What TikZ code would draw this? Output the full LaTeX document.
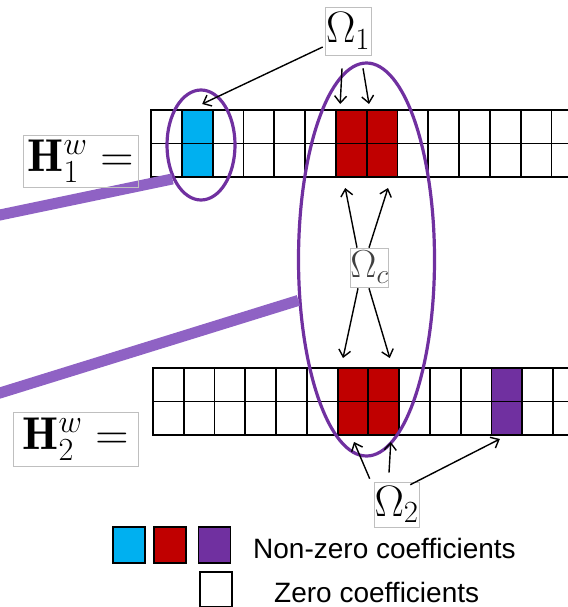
\RequirePackage{fix-cm}
\documentclass[tikz,border=0pt]{standalone}
\usepackage{fontspec}
\setsansfont{Liberation Sans}
\usetikzlibrary{shapes.geometric,calc,arrows.meta}

\definecolor{cblue}{RGB}{0,176,240}
\definecolor{cred}{RGB}{192,0,0}
\definecolor{cpurple}{RGB}{112,48,160}
\definecolor{cband}{RGB}{143,98,196}

\tikzset{
  cell/.style={shape=rectangle,draw,line width=1.8pt,minimum width=30.8pt,minimum height=33.5pt,inner sep=0pt,outer sep=0pt},
  key/.style={cell,minimum width=32pt,minimum height=36pt},
  eqbox/.style={shape=rectangle,draw=black!25,line width=0.6pt,inner sep=0pt},
  group/.style={shape=ellipse,draw=cpurple,line width=3.2pt,inner sep=0pt},
  band/.style={cband,line width=11pt},
  arr/.style={->,line width=1.4pt},
}

\begin{document}
\begin{tikzpicture}[x=1pt,y=-1pt,>={Straight Barb[length=7pt,width=12pt]}]
\useasboundingbox (0,0) rectangle (567,607);

% the two coefficient matrices
\foreach \r in {1,2}
  \foreach \c in {1,...,14} {
    \node[cell] (t-\r-\c) at ({151+30.8*(\c-0.5)},{110+33.5*(\r-0.5)}) {};
    \node[cell] (b-\r-\c) at ({153+30.77*(\c-0.5)},{368+33.5*(\r-0.5)}) {};
  }
\foreach \r in {1,2} {
  \node[cell,fill=cblue] at (t-\r-2) {};
  \node[cell,fill=cred] at (t-\r-7) {};
  \node[cell,fill=cred] at (t-\r-8) {};
  \node[cell,fill=cred] at (b-\r-7) {};
  \node[cell,fill=cred] at (b-\r-8) {};
  \node[cell,fill=cpurple] at (b-\r-12) {};
}

% groups
\node[group,minimum width=68pt,minimum height=110pt] (g1) at (201,145) {};
\node[group,minimum width=136pt,minimum height=393pt] (gc) at (366.5,259.5) {};

\coordinate (l1) at (-5,216);
\coordinate (l2) at (-5,394.5);
\draw[band] (l1) -- (g1.230);
\draw[band] (l2) -- (gc.211);

% labels
\node[eqbox,minimum width=115pt,minimum height=52pt] (h1) at (80.5,161) {\fontsize{46}{50}\selectfont$\mathbf{H}^w_1=$};
\node[eqbox,minimum width=125pt,minimum height=54pt] (h2) at (75.5,439) {\fontsize{46}{50}\selectfont$\mathbf{H}^w_2=$};
\node[eqbox,minimum width=46pt,minimum height=48pt] (o1) at (348,31) {\fontsize{44}{48}\selectfont$\Omega_1$};
\node[eqbox,minimum width=37pt,minimum height=39pt,text=black!75] (oc) at (369.5,267.5) {\fontsize{39}{42}\selectfont$\Omega_c$};
\node[eqbox,minimum width=45pt,minimum height=45pt] (o2) at (396.5,504.5) {\fontsize{44}{48}\selectfont$\Omega_2$};

% arrows
\draw[arr] ($(o1.west)+(-2,16)$) -- ($(t-1-2.north)+(5,-6)$);
\draw[arr] ($(o1.south)+(-6,13)$) -- ($(t-1-7.north)+(-11,-6)$);
\draw[arr] ($(o1.south)+(15,13)$) -- ($(t-1-8.north)+(-13,-6)$);
\draw[arr] ($(oc.north)+(-12.5,0)$) -- ($(t-2-7.south)+(-6,11)$);
\draw[arr] ($(oc.north)+(-0.5,0)$) -- ($(t-2-8.south)+(6,11)$);
\draw[arr] ($(oc.south)+(-11.5,1)$) -- ($(b-1-7.north)+(-10,-10)$);
\draw[arr] ($(oc.south)+(-0.5,1)$) -- ($(b-1-8.north)+(6,-10)$);
\draw[arr] ($(o2.north west)+(-4,-3)$) -- ($(b-2-7.south)+(1,7)$);
\draw[arr] ($(o2.north)+(-7.5,-9)$) -- ($(b-2-8.south)+(7,7)$);
\draw[arr] ($(o2.north east)+(-9,3)$) -- ($(b-2-12.south)+(-7,4)$);

% legend
\node[key,fill=cblue] (k1) at (129,545) {};
\node[key,fill=cred] (k2) at (170,545) {};
\node[key,fill=cpurple] (k3) at (214.5,545) {};
\node[key,minimum height=35pt] (k4) at (216,589.5) {};
\node[font=\sffamily\fontsize{28}{32}\selectfont,anchor=base west,inner sep=0pt] (n1) at (253,558) {Non-zero coefficients};
\node[font=\sffamily\fontsize{28}{32}\selectfont,anchor=base west,inner sep=0pt] (n2) at (274,602) {Zero coefficients};
\end{tikzpicture}
\end{document}
